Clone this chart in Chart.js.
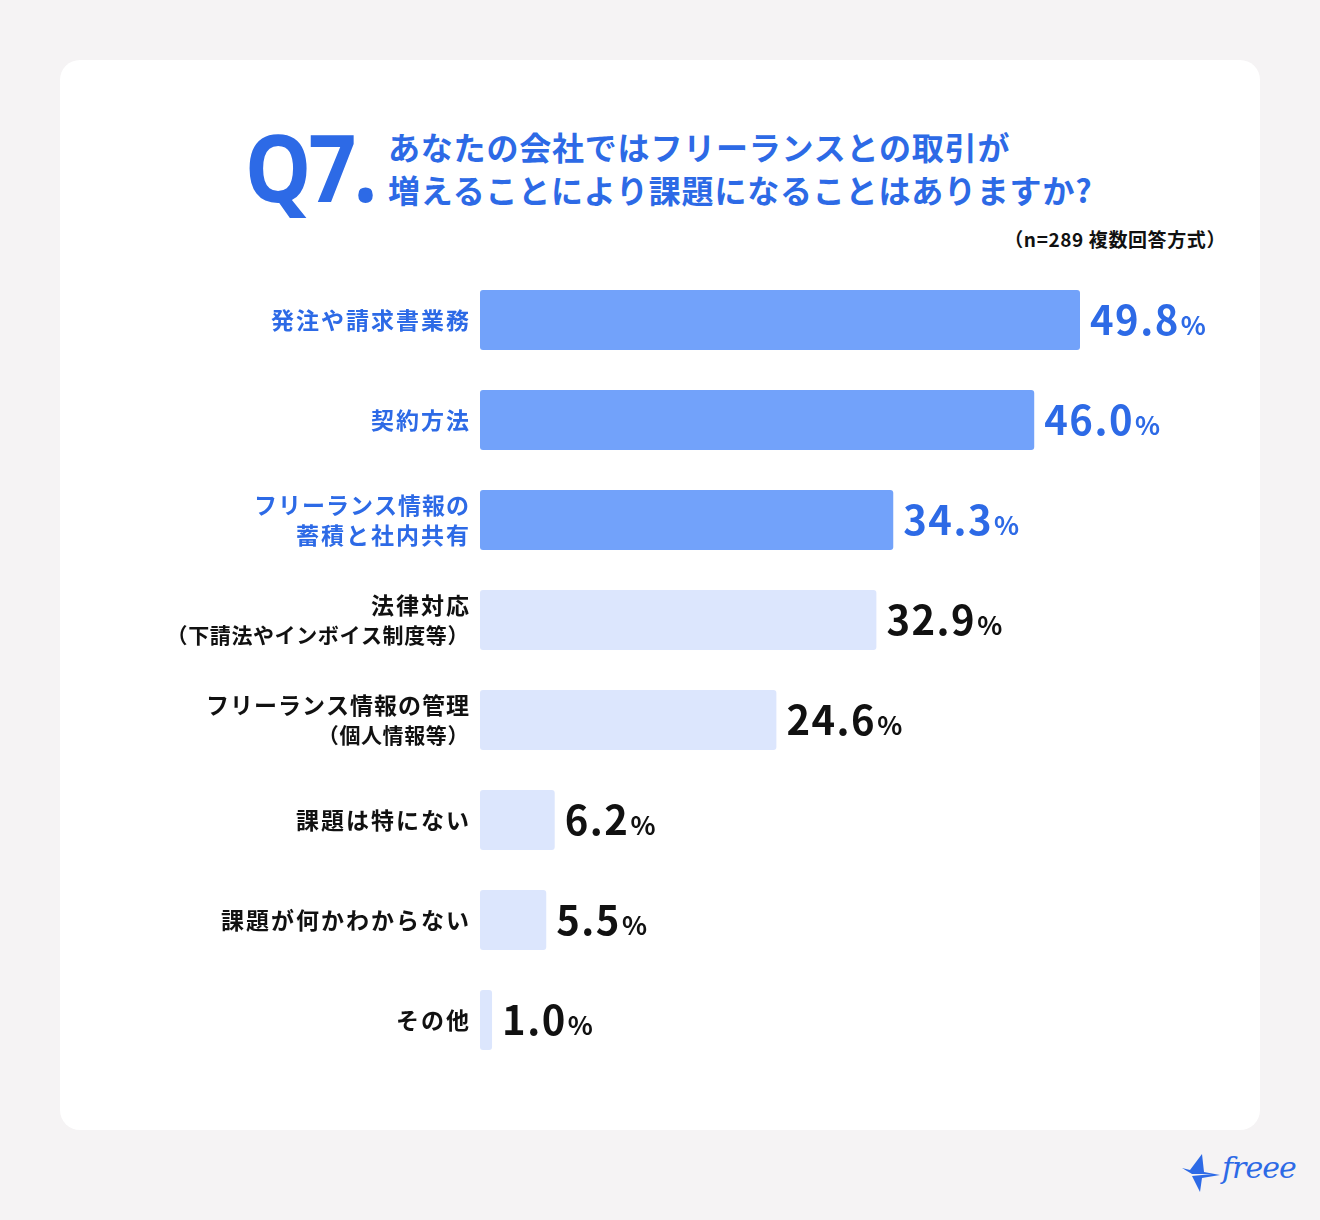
<!DOCTYPE html>
<html lang="ja">
<head>
<meta charset="utf-8">
<script src="https://cdn.jsdelivr.net/npm/chart.js@4.4.1/dist/chart.umd.min.js"></script>
<style>
  html, body { margin: 0; padding: 0; }
  body { width: 1320px; height: 1220px; background: #f5f3f4; position: relative; overflow: hidden;
         font-family: "Noto Sans CJK JP", "Noto Sans", sans-serif; }
  .card { position: absolute; left: 60px; top: 60px; width: 1200px; height: 1070px; background: #fff; border-radius: 20px; }
  .q { position: absolute; left: 245px; top: 106px; font-family: "Noto Sans", sans-serif; font-weight: 700;
       font-size: 93px; line-height: 120px; color: #2d6ae6; letter-spacing: -3px;
       transform: scaleX(0.9); transform-origin: left top; white-space: nowrap; }
  .qt { position: absolute; left: 388px; top: 125px; font-weight: 700; font-size: 32px; line-height: 43px;
        color: #2d6ae6; letter-spacing: 0.8px; white-space: nowrap; }
  .note { position: absolute; right: 94px; top: 226px; font-weight: 700; font-size: 19px; line-height: 26px; color: #111; letter-spacing: 0.6px; }
  .wrap { position: absolute; left: 60px; top: 270px; width: 1200px; height: 800px; }
  .logo { position: absolute; left: 1180px; top: 1148px; width: 120px; height: 50px; }
  .logo span { position: absolute; left: 42px; top: 2px; font-family: "DejaVu Serif", serif; font-style: italic;
               font-size: 30px; color: #2d6ae6; letter-spacing: -1px; }
</style>
</head>
<body>
<div class="card"></div>
<div class="q">Q7.</div>
<div class="qt">あなたの会社ではフリーランスとの取引が<br>増えることにより課題になることはありますか?</div>
<div class="note">（n=289 複数回答方式）</div>
<div class="wrap"><canvas id="c"></canvas></div>
<div class="logo">
  <svg width="50" height="50" viewBox="0 0 50 50" style="position:absolute;left:0;top:0">
    <path d="M22 6 L10 22 L2 20 L12 26 L32 26 L12 28 L20 44 L22 30 L40 27 L24 24 Z" fill="#2d6ae6"/>
  </svg>
  <span>freee</span>
</div>
<script>
const categories = [
  ["発注や請求書業務"],
  ["契約方法"],
  ["フリーランス情報の", "蓄積と社内共有"],
  ["法律対応", "（下請法やインボイス制度等）"],
  ["フリーランス情報の管理", "（個人情報等）"],
  ["課題は特にない"],
  ["課題が何かわからない"],
  ["その他"]
];
const values = [49.8, 46.0, 34.3, 32.9, 24.6, 6.2, 5.5, 1.0];
const highlight = [true, true, true, false, false, false, false, false];

const BLUE_TEXT = "#2d6ae6";
const DARK_BAR = "#72a2fa";
const LIGHT_BAR = "#dce6fd";
const FONT = '"Noto Sans CJK JP", "Noto Sans", sans-serif';

const labelPlugin = {
  id: "sideLabels",
  afterDatasetsDraw(chart) {
    const ctx = chart.ctx;
    const meta = chart.getDatasetMeta(0);
    const left = chart.chartArea.left;
    const hasLS = "letterSpacing" in ctx;
    ctx.save();
    meta.data.forEach((bar, i) => {
      const lines = categories[i];
      const color = highlight[i] ? BLUE_TEXT : "#111111";
      ctx.fillStyle = color;
      ctx.textAlign = "right";
      ctx.textBaseline = "middle";
      const n = lines.length;
      lines.forEach((ln, j) => {
        const paren = ln.startsWith("（");
        const kata = /[ァ-ヶー]/.test(ln);
        ctx.font = "700 " + (paren ? 21 : 23) + "px " + FONT;
        if (hasLS) ctx.letterSpacing = paren ? "0.6px" : (kata ? "1px" : "2px");
        const y = bar.y + (j - (n - 1) / 2) * 30;
        ctx.fillText(ln, left - 11 + (paren ? 0 : (kata ? 1 : 2)), y);
      });
      if (hasLS) ctx.letterSpacing = "0px";
      const num = values[i].toFixed(1);
      ctx.textAlign = "left";
      ctx.textBaseline = "alphabetic";
      ctx.font = "700 40px " + FONT;
      if (hasLS) ctx.letterSpacing = "1.5px";
      const x0 = bar.x + 10;
      const yb = bar.y + 15;
      ctx.fillText(num, x0, yb);
      const w = ctx.measureText(num).width;
      ctx.font = "700 26px " + FONT;
      if (hasLS) ctx.letterSpacing = "0px";
      ctx.fillText("%", x0 + w + 1, yb);
    });
    ctx.restore();
  }
};

new Chart(document.getElementById("c"), {
  type: "bar",
  data: {
    labels: categories,
    datasets: [{
      data: values,
      backgroundColor: highlight.map(h => h ? DARK_BAR : LIGHT_BAR),
      borderRadius: 3,
      borderSkipped: false,
      barPercentage: 0.6,
      categoryPercentage: 1.0
    }]
  },
  options: {
    indexAxis: "y",
    responsive: true,
    maintainAspectRatio: false,
    animation: false,
    devicePixelRatio: 1,
    layout: { padding: { left: 420, right: 0, top: 0, bottom: 0 } },
    plugins: { legend: { display: false }, tooltip: { enabled: false } },
    scales: {
      x: { display: false, min: 0, max: 64.74 },
      y: { display: false }
    }
  },
  plugins: [labelPlugin]
});
</script>
</body>
</html>
